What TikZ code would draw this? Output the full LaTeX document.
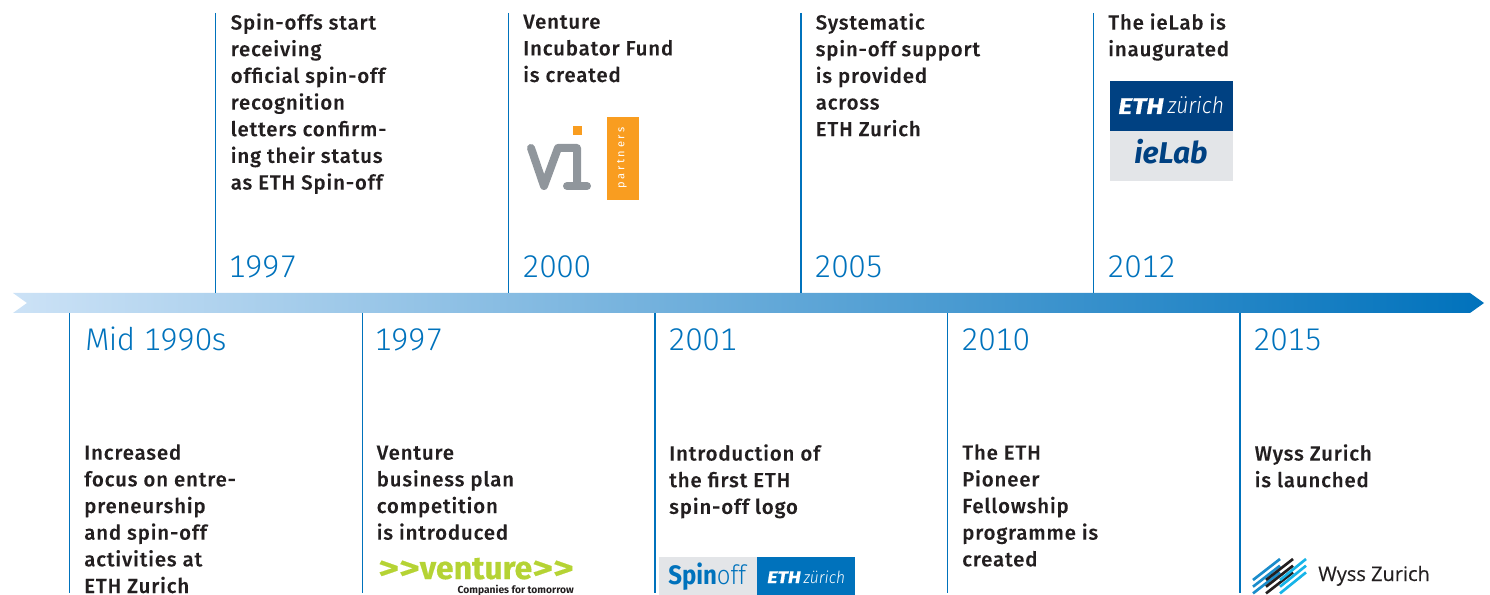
\documentclass[tikz,border=0pt]{standalone}
\usepackage{fontspec}
\setmainfont{Fira Sans}
\newfontfamily\bodyf[LetterSpace=4.2,FakeBold=0.1]{Fira Sans Medium}
\newfontfamily\yearf[LetterSpace=-1.5,Numbers=Monospaced]{Fira Sans Light}
\newfontfamily\logof{Fira Sans}
\newfontfamily\logol{Fira Sans Light}
\newfontfamily\wyssf[FakeBold=0.15]{Open Sans}
\definecolor{ethblue}{HTML}{0072BC}
\definecolor{barlight}{HTML}{CCE2F6}
\definecolor{ethdark}{HTML}{004182}
\definecolor{labgrey}{HTML}{E3E5E8}
\definecolor{vigrey}{HTML}{90969C}
\definecolor{viorange}{HTML}{F99D20}
\definecolor{vgreen}{HTML}{B5D334}
\definecolor{bodytxt}{HTML}{231F20}
\definecolor{wblue}{HTML}{1A8CCB}
\definecolor{wcyan}{HTML}{17B4E8}
\newcommand{\ethmark}{{\scalebox{1.18}[1]{\textbf{\textit{\addfontfeature{FakeBold=0.5}ETH}}}}\,{\logol\scalebox{0.93}[1]{\textit{zürich}}}}
\tikzset{
  x=0.75pt,y=-0.75pt,
  stem/.style={draw=ethblue,line width=0.95pt},
  yearlab/.style={anchor=base west,inner sep=0pt,text=ethblue,font=\yearf\fontsize{23.5}{26}\selectfont},
  desc/.style={anchor=north west,inner sep=0pt,align=left,text=bodytxt,font=\bodyf\fontsize{15.3}{20}\selectfont},
  vistroke/.style={draw=vigrey,line width=6pt,line cap=round,line join=round},
  wstripe/.style={line width=2pt}
}
\begin{document}
\begin{tikzpicture}
\useasboundingbox (0,0) rectangle (1490,595);
% bar
\shade[left color=barlight,right color=ethblue] (13,293) -- (1470,293) -- (1484,303) -- (1470,313) -- (13,313) -- (27,303) -- cycle;
% upper items
\foreach \n/\x in {a/215.5,b/508.2,c/801,d/1093.5}{
  \coordinate (\n top) at (\x,13);
  \coordinate (\n bar) at (\x,293);
  \draw[stem] (\n top) -- (\n bar);
}
\node[yearlab] (ya) at (228,278) {1997};
\node[yearlab] (yb) at (522,278) {2000};
\node[yearlab] (yc) at (814,278) {2005};
\node[yearlab] (yd) at (1107,278) {2012};
\node[desc] (ta) at (230.5,13) {\vphantom{f}Spin-offs start\\receiving\\official spin-off\\recognition\\letters confirm-\\ing their status\\as ETH Spin-off};
\node[desc] (tb) at (523,13) {\vphantom{f}Venture\\Incubator Fund\\is created};
\node[desc] (tc) at (815.5,13) {\vphantom{f}Systematic\\spin-off support\\is provided\\across\\ETH Zurich};
\node[desc] (td) at (1108,13) {\vphantom{f}The ieLab is\\inaugurated};
% lower items
\foreach \n/\x in {e/69.5,f/362.5,g/655,h/947.5,i/1240}{
  \coordinate (\n bar) at (\x,313);
  \coordinate (\n end) at (\x,593);
  \draw[stem] (\n bar) -- (\n end);
}
\node[yearlab] (ye) at (85,351) {Mid 1990s};
\node[yearlab] (yf) at (374,351) {1997};
\node[yearlab] (yg) at (668,351) {2001};
\node[yearlab] (yh) at (961,351) {2010};
\node[yearlab] (yi) at (1253,351) {2015};
\node[desc] (te) at (84,444) {\vphantom{f}Increased\\focus on entre-\\preneurship\\and spin-off\\activities at\\ETH Zurich};
\node[desc] (tf) at (376.5,444) {\vphantom{f}Venture\\business plan\\competition\\is introduced};
\node[desc] (tg) at (669,444) {\vphantom{f}Introduction of\\the first ETH\\spin-off logo};
\node[desc] (th) at (962,444) {\vphantom{f}The ETH\\Pioneer\\Fellowship\\programme is\\created};
\node[desc] (ti) at (1254.5,444) {\vphantom{f}Wyss Zurich\\is launched};
% VI logo
\draw[vistroke] (531,148) -- (544,186) -- (558,148) -- (577,148) -- (577,186);
\draw[vistroke] (567,186) -- (587,186);
\fill[viorange] (572.5,126) rectangle (581.7,135);
\fill[viorange] (607.3,116.7) rectangle (639.3,200.5);
\node[rotate=90,inner sep=0pt,text=white,font=\logof\fontsize{8.3}{9}\selectfont] (vip) at (622,158) {\addfontfeature{LetterSpace=25}partners};
% ieLab logo
\fill[ethdark] (1110,81) rectangle (1233,131);
\fill[labgrey] (1110,131) rectangle (1233,181);
\node[anchor=base west,inner sep=0pt,text=white,font=\logof\fontsize{17}{18}\selectfont] (ethz) at (1118,114) {\ethmark};
\node[anchor=base west,inner sep=0pt,text=ethdark,font=\logof\fontsize{22.5}{23}\selectfont] (lab) at (1134,164) {\textbf{\textit{ieLab}}};
% venture logo
\node[anchor=base west,inner sep=0pt,text=vgreen,font=\logof\fontsize{24}{25}\selectfont] (vent) at (378,579) {\textbf{\addfontfeature{FakeBold=0.4}\scalebox{1.25}[1]{>>}venture\scalebox{1.25}[1]{>>}}};
\node[anchor=base east,inner sep=0pt,text=bodytxt,font=\logof\fontsize{7.7}{8}\selectfont] (comp) at (574,593) {\textbf{Companies for tomorrow}};
% spinoff logo
\fill[labgrey] (659,557) rectangle (757,595);
\fill[ethblue] (757,557) rectangle (855,595);
\node[anchor=base west,inner sep=0pt,text=ethblue,font=\logof\fontsize{20}{21}\selectfont] (spin) at (668,584) {\scalebox{0.9}[1]{\textbf{Spin}{\logol off}}};
\node[anchor=base west,inner sep=0pt,text=white,font=\logof\fontsize{12.5}{14}\selectfont] (ethz2) at (767,583) {\ethmark};
% wyss logo
\foreach \o in {0,6.7,13.4}{
  \draw[wstripe,draw=wblue] (1253,{580+\o}) -- (1280,{559+\o});
}
\foreach \o in {0,6.7,13.4}{
  \draw[wstripe,draw=bodytxt] (1266,{580+\o}) -- (1293,{559+\o});
}
\foreach \o in {0,6.7,13.4}{
  \draw[wstripe,draw=wcyan] (1280,{580+\o}) -- (1306,{559+\o});
}
\node[anchor=base west,inner sep=0pt,text=bodytxt,font=\wyssf\fontsize{15}{16}\selectfont] (wyss) at (1318,581) {Wyss Zurich};
\end{tikzpicture}
\end{document}
